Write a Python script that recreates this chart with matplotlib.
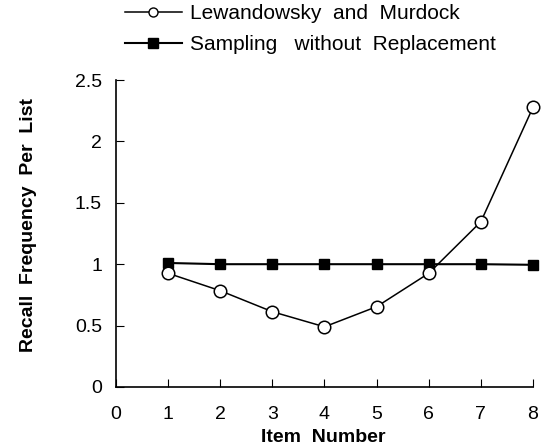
import matplotlib
matplotlib.use("Agg")
import matplotlib.pyplot as plt
from matplotlib.lines import Line2D

plt.rcParams['font.family'] = ['Liberation Sans', 'DejaVu Sans']

items = [1, 2, 3, 4, 5, 6, 7, 8]
lewandowsky = [0.926, 0.784, 0.613, 0.49, 0.654, 0.926, 1.346, 2.278]
sampling = [1.01, 1.0, 1.0, 1.0, 1.0, 1.0, 1.0, 0.995]
xticks = [0, 1, 2, 3, 4, 5, 6, 7, 8]
yticks = [0, 0.5, 1, 1.5, 2, 2.5]
ytick_labels = ["0", "0.5", "1", "1.5", "2", "2.5"]
series_names = ["Lewandowsky  and  Murdock", "Sampling   without  Replacement"]

fig = plt.figure(figsize=(5.43, 4.48), dpi=100)
ax = fig.add_axes([0.2136, 0.1362, 0.768, 0.6852])

ax.plot(items, lewandowsky, color='k', lw=1.1, marker='o', ms=9,
        mfc='white', mec='k', mew=1.1, zorder=3, clip_on=False)
ax.plot(items, sampling, color='k', lw=1.5, marker='s', ms=7,
        mfc='k', mec='k', zorder=2, clip_on=False)

ax.set_xlim(0, 8)
ax.set_ylim(0, 2.5)
ax.spines['top'].set_visible(False)
ax.spines['right'].set_visible(False)
ax.spines['left'].set_linewidth(1.2)
ax.spines['bottom'].set_linewidth(1.2)
ax.set_xticks(xticks)
ax.set_yticks(yticks)
ax.set_yticklabels(ytick_labels)
ax.tick_params(axis='x', direction='in', length=6, pad=14, labelsize=14)
ax.tick_params(axis='y', direction='in', length=6, pad=10, labelsize=14)
ax.set_xlabel("Item  Number", fontsize=14, fontweight='bold')
ax.set_ylabel("Recall  Frequency  Per  List", fontsize=14, fontweight='bold')
ax.xaxis.set_label_coords(0.496, -0.138)
ax.yaxis.set_label_coords(-0.19, 0.528)

handles = [
    Line2D([], [], color='k', lw=1.1, marker='o', ms=6.5, mfc='white', mec='k'),
    Line2D([], [], color='k', lw=1.5, marker='s', ms=6.5, mfc='k', mec='k'),
]
fig.legend(handles, series_names,
           loc='upper left', bbox_to_anchor=(0.23, 0.99), frameon=False,
           fontsize=15, handlelength=2.74, handletextpad=0.38, labelspacing=0.56,
           borderpad=0, borderaxespad=0)

fig.savefig("out.png", dpi=100)
